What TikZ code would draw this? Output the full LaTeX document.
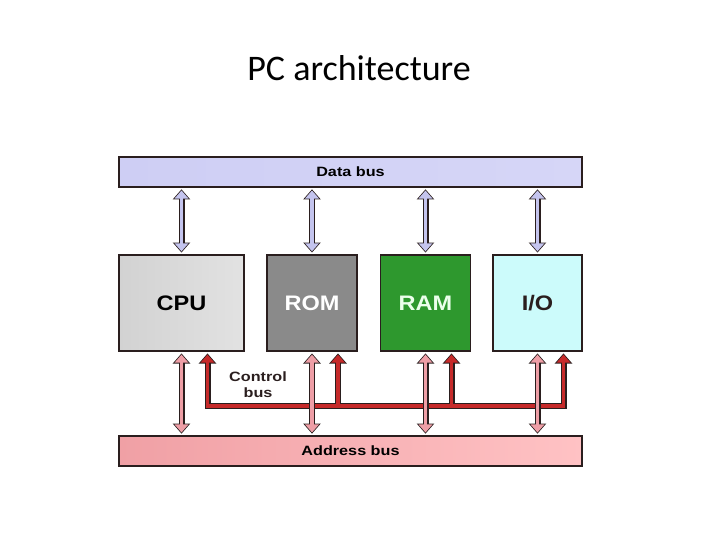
\documentclass[tikz,border=0pt]{standalone}
\usepackage{fontspec}
\setmainfont{Liberation Sans}
\newfontfamily\titlefont{Carlito}
\newfontfamily\widesans[FakeStretch=1.2]{Liberation Sans}
\newfontfamily\bigsans[FakeStretch=1.12]{Liberation Sans}
\usetikzlibrary{calc}
\definecolor{outl}{HTML}{2A1E1E}
\definecolor{lav}{HTML}{D4D4F6}
\definecolor{lavarrow}{HTML}{C4C4EE}
\definecolor{pinkarrow}{HTML}{EE9EA6}
\definecolor{ctrlred}{HTML}{C62A2A}
\definecolor{romgray}{HTML}{8A8A8A}
\definecolor{ramgreen}{HTML}{2E982E}
\definecolor{iocyan}{HTML}{CCFBFB}
\tikzset{
  bus/.style={draw=outl, line width=1.2pt, minimum width=463pt, minimum height=30pt, inner sep=0pt,
    font=\widesans\bfseries\fontsize{13.5}{15}\selectfont},
  unit/.style={draw=outl, line width=1.4pt, minimum height=96pt, inner sep=0pt,
    font=\bigsans\bfseries\fontsize{21}{24}\selectfont},
}
\newcommand\fathead[3]{% #1 tip, #2 direction (+1 head points up, -1 down), #3 colour
  \filldraw[outl, line width=1.6pt, line join=miter] (#1) -- ($(#1)+(-7,#2*8)$) -- ($(#1)+(7,#2*8)$) -- cycle;
}
\newcommand\fatheadfill[3]{%
  \fill[#3] (#1) -- ($(#1)+(-7,#2*8)$) -- ($(#1)+(7,#2*8)$) -- cycle;
}
\newcommand\fatdbl[3]{% #1 top tip, #2 bottom tip, #3 fill colour
  \draw[line width=6pt, outl] ($(#1)+(0,8)$) -- ($(#2)+(0,-8)$);
  \fathead{#1}{1}{#3}
  \fathead{#2}{-1}{#3}
  \draw[line width=3.4pt, #3] ($(#1)+(0,7.5)$) -- ($(#2)+(0,-7.5)$);
  \fatheadfill{#1}{1}{#3}
  \fatheadfill{#2}{-1}{#3}
}
\begin{document}
\begin{tikzpicture}[x=1pt, y=-1pt]
\useasboundingbox (0,0) rectangle (720,540);
\node[font=\titlefont\fontsize{36}{40}\selectfont] (title) at (359,68) {PC architecture};

\node[bus, left color={rgb,255:red,206;green,206;blue,244}, right color={rgb,255:red,214;green,214;blue,247}] (data) at (350.5,172) {Data bus};
\node[bus, left color={rgb,255:red,240;green,160;blue,165}, right color={rgb,255:red,255;green,194;blue,196}] (addr) at (350.5,451) {Address bus};

\node[unit, minimum width=125pt, left color={rgb,255:red,210;green,210;blue,210}, right color={rgb,255:red,226;green,226;blue,226}] (cpu) at (181.5,303) {CPU};
\node[unit, minimum width=90pt, fill=romgray, text=white] (rom) at (312,303) {ROM};
\node[unit, minimum width=90pt, fill=ramgreen, text=white!92!green] (ram) at (425.5,303) {RAM};
\node[unit, minimum width=89pt, fill=iocyan, text=outl] (io) at (537.5,303) {I/O};

\foreach \u [count=\i] in {cpu,rom,ram,io}{
  \coordinate (dt\i) at ($(data.south -| \u.center)+(0,3)$);
  \coordinate (db\i) at ($(\u.north)+(0,-3)$);
  \coordinate (at\i) at ($(\u.south)+(0,3)$);
  \coordinate (ab\i) at ($(addr.north -| \u.center)+(0,-3)$);
  \coordinate (k\i) at ($(\u.south)+(26,3)$);
}
% data bus arrows
\foreach \i in {1,...,4}{\fatdbl{dt\i}{db\i}{lavarrow}}

% control bus
\coordinate (bary) at (0,406);
\draw[line width=6pt, outl, line join=miter]
  ($(k1)+(0,8)$) -- (k1 |- bary) -- (k4 |- bary) -- ($(k4)+(0,8)$)
  ($(k2)+(0,8)$) -- (k2 |- bary)
  ($(k3)+(0,8)$) -- (k3 |- bary);
\foreach \i in {1,...,4}{\fathead{k\i}{1}{ctrlred}}
\draw[line width=3.4pt, ctrlred, line join=miter]
  ($(k1)+(0,7.5)$) -- (k1 |- bary) -- (k4 |- bary) -- ($(k4)+(0,7.5)$)
  ($(k2)+(0,7.5)$) -- (k2 |- bary)
  ($(k3)+(0,7.5)$) -- (k3 |- bary);
\foreach \i in {1,...,4}{\fatheadfill{k\i}{1}{ctrlred}}

% address bus arrows
\foreach \i in {1,...,4}{\fatdbl{at\i}{ab\i}{pinkarrow}}

\node[align=center, font=\widesans\bfseries\fontsize{13.5}{16}\selectfont, text=outl] (ctrl) at (258,385) {Control\\bus};
\end{tikzpicture}
\end{document}
